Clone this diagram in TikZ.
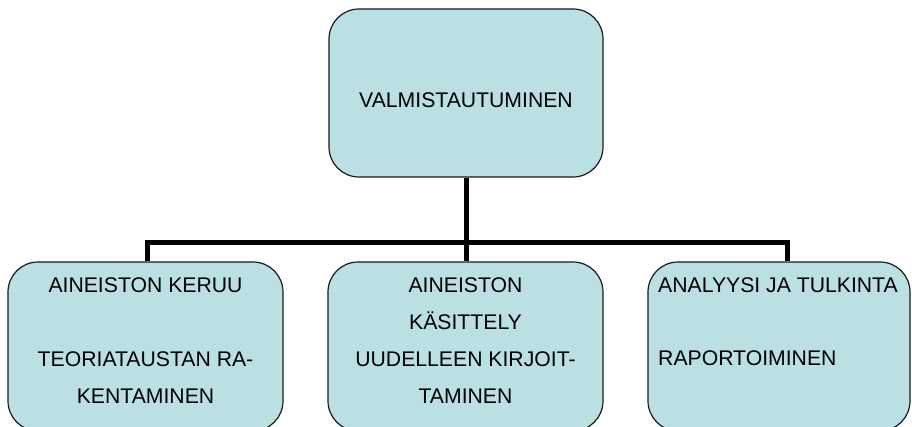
\documentclass[tikz,border=0pt]{standalone}
\usepackage{fontspec}
\setmainfont{Liberation Sans}
\definecolor{boxfill}{HTML}{BAE0E3}
\definecolor{boxline}{HTML}{1A1A1A}
\begin{document}
\begin{tikzpicture}[x=1pt,y=1pt,
  box/.style={draw=boxline,line width=1.2pt,fill=boxfill,rounded corners=30pt,inner sep=0pt},
  conn/.style={line width=5pt,draw=black},
  txt/.style={anchor=base,inner sep=0pt,font=\fontsize{21.2pt}{37pt}\selectfont}]
\useasboundingbox (0,0) rectangle (912,426);
\begin{scope}
\clip (0,0) rectangle (912,426);
\node[box,minimum width=274pt,minimum height=168pt] (top) at (466,333) {};
\node[box,minimum width=275pt,minimum height=169pt] (left) at (145.5,79.5) {};
\node[box,minimum width=275pt,minimum height=169pt] (mid) at (465.5,79.5) {};
\node[box,minimum width=262pt,minimum height=169pt] (right) at (779,79.5) {};
\end{scope}
\coordinate (busL) at (147,183);
\coordinate (busR) at (787,183);
\coordinate (busM) at (top.south |- busL);
\draw[conn] (top.south) -- (busM);
\draw[conn,line join=miter] (busL |- left.north) -- (busL) -- (busR) -- (busR |- right.north);
\draw[conn] (busM) -- (busM |- mid.north);
\node[txt] (t0) at (466,318.5) {VALMISTAUTUMINEN};
\node[txt] (l1) at (145.5,134) {AINEISTON KERUU};
\node[txt] (l2) at (145.5,60) {TEORIATAUSTAN RA-};
\node[txt] (l3) at (145.5,23) {KENTAMINEN};
\node[txt] (m1) at (465.5,134) {AINEISTON};
\node[txt] (m2) at (465.5,97) {KÄSITTELY};
\node[txt] (m3) at (465.5,60) {UUDELLEEN KIRJOIT-};
\node[txt] (m4) at (465.5,23) {TAMINEN};
\node[txt,anchor=base west] (r1) at (658,134) {ANALYYSI JA TULKINTA};
\node[txt,anchor=base west] (r2) at (658,61) {RAPORTOIMINEN};
\end{tikzpicture}
\end{document}
